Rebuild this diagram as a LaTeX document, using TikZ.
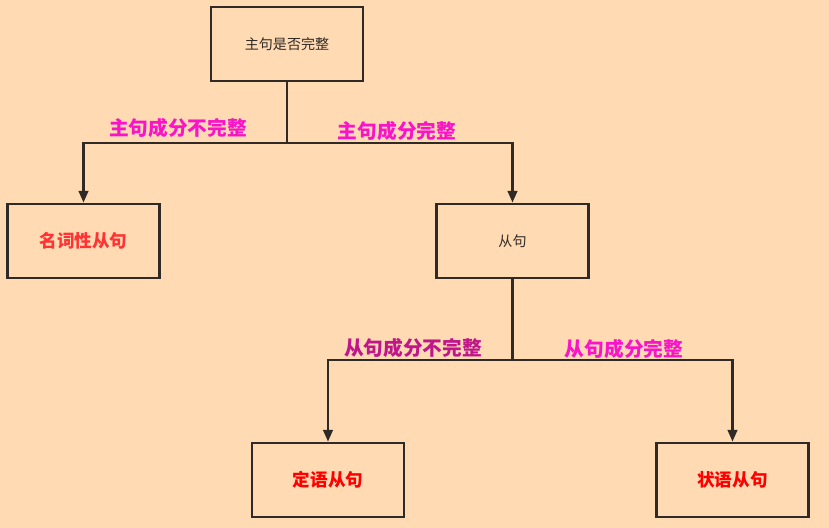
\documentclass[tikz,border=0pt]{standalone}
\usepackage{fontspec}
\setmainfont{Noto Sans CJK SC}
\usepackage{tikz}
\usetikzlibrary{arrows.meta}

\definecolor{peach}{HTML}{FFDAB3}
\definecolor{ink}{HTML}{2F2A25}
\definecolor{pinkish}{HTML}{FA14C8}
\definecolor{plum}{HTML}{C0168C}
\definecolor{tomato}{HTML}{FF3333}
\definecolor{pure}{HTML}{FF0000}

\tikzset{
	box/.style={draw=ink, line width=2.2pt, minimum width=4.56cm, minimum height=2.22cm, inner sep=0pt},
	link/.style={draw=ink, line width=2.2pt},
	tip/.style={link, -{Triangle[length=10pt,width=8pt]}},
	cond/.style={font=\bfseries\fontsize{16.8}{18}\selectfont}
}

\begin{document}
\begin{tikzpicture}[x=0.03cm,y=-0.03cm]
	\fill[peach] (0,0) rectangle (829,528);
	\useasboundingbox (0,0) rectangle (829,528);
	% boxes
	\node[box, font=\fontsize{12}{14}\selectfont, text=ink] (main) at (287,44) {主句是否完整};
	\node[box, font=\bfseries\fontsize{15}{17}\selectfont, text=tomato] (noun) at (83.5,241) {名词性从句};
	\node[box, font=\fontsize{12}{14}\selectfont, text=ink] (clause) at (512.5,241) {从句};
	\node[box, font=\bfseries\fontsize{15}{17}\selectfont, text=pure] (attr) at (328,480) {定语从句};
	\node[box, font=\bfseries\fontsize{15}{17}\selectfont, text=pure] (adv) at (732.5,480) {状语从句};
	% first split
	\coordinate (J1) at (287,143);
	\draw[link] (main.south) -- (J1);
	\draw[tip] (J1) -| (noun.north);
	\draw[tip] (J1) -| (clause.north);
	\node[cond, text=pinkish] (c1) at (178,128) {主句成分不完整};
	\node[cond, text=pinkish] (c2) at (397,131) {主句成分完整};
	% second split
	\coordinate (J2) at (512.5,360);
	\draw[link] (clause.south) -- (J2);
	\draw[tip] (J2) -| (attr.north);
	\draw[tip] (J2) -| (adv.north);
	\node[cond, text=plum] (c3) at (413,348) {从句成分不完整};
	\node[cond, text=pinkish] (c4) at (624,349) {从句成分完整};
\end{tikzpicture}
\end{document}
